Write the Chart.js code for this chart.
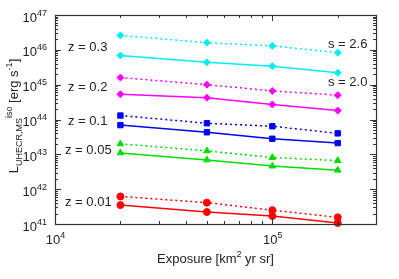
<!DOCTYPE html>
<html>
<head>
<meta charset="utf-8">
<script src="https://cdn.jsdelivr.net/npm/chart.js@4/dist/chart.umd.min.js"></script>
<style>
html,body{margin:0;padding:0;background:#fff;}
canvas{display:block;}
</style>
</head>
<body>
<canvas id="c" width="399" height="279"></canvas>
<script>
// ---- data ----
const exposure = [2e4, 5e4, 1e5, 2e5];
const z03_s26 = [2.6e46, 1.6e46, 1.3e46, 8.3e45];
const z03_s20 = [6.9e45, 4.4e45, 3.4e45, 2.2e45];
const z02_s26 = [1.6e45, 1.0e45, 6.6e44, 5.0e44];
const z02_s20 = [5.3e44, 4.2e44, 2.7e44, 1.8e44];
const z01_s26 = [1.3e44, 7.8e43, 6.4e43, 4.0e43];
const z01_s20 = [6.9e43, 4.3e43, 2.8e43, 2.1e43];
const z005_s26 = [2.0e43, 1.26e43, 8.1e42, 6.6e42];
const z005_s20 = [1.1e43, 6.9e42, 4.6e42, 3.5e42];
const z001_s26 = [6.2e41, 4.1e41, 2.5e41, 1.55e41];
const z001_s20 = [3.5e41, 2.2e41, 1.7e41, 1.07e41];

const yTickExponents = [41, 42, 43, 44, 45, 46, 47];
const xTickExponents = [4, 5];
const zLabels = ["z = 0.3", "z = 0.2", "z = 0.1", "z = 0.05", "z = 0.01"];
const sLabels = ["s = 2.6", "s = 2.0"];

const FONT = "'Liberation Sans', Arial, Helvetica, sans-serif";

function pts(arr) { return arr.map((v, i) => ({x: exposure[i], y: v})); }

function ds(arr, color, style, dotted, radius) {
  return {
    data: pts(arr),
    borderColor: color,
    backgroundColor: color,
    borderWidth: 1.5,
    borderDash: dotted ? [2, 3] : [],
    pointStyle: style,
    pointRadius: radius,
    pointBorderWidth: 1,
    tension: 0,
    clip: false
  };
}

const CY = '#00eeee', MG = '#ff00ff', BL = '#0000ff', GR = '#00dd00', RD = '#ff0000';

const datasets = [
  ds(z03_s26, CY, 'rectRot', true, 3.5),
  ds(z03_s20, CY, 'rectRot', false, 3.5),
  ds(z02_s26, MG, 'rectRot', true, 3.5),
  ds(z02_s20, MG, 'rectRot', false, 3.5),
  ds(z01_s26, BL, 'rect', true, 3.8),
  ds(z01_s20, BL, 'rect', false, 3.8),
  ds(z005_s26, GR, 'triangle', true, 3.8),
  ds(z005_s20, GR, 'triangle', false, 3.8),
  ds(z001_s26, RD, 'circle', true, 3.5),
  ds(z001_s20, RD, 'circle', false, 3.5)
];

function drawPow(ctx, base, exp, x, y, align, size) {
  // draws base with superscript exponent; y is baseline of base
  ctx.font = size + 'px ' + FONT;
  const wb = ctx.measureText(base).width;
  ctx.font = Math.round(size * 0.72) + 'px ' + FONT;
  const we = ctx.measureText(exp).width;
  const total = wb + we;
  let x0 = x;
  if (align === 'right') x0 = x - total;
  else if (align === 'center') x0 = x - total / 2;
  ctx.textAlign = 'left';
  ctx.textBaseline = 'alphabetic';
  ctx.font = size + 'px ' + FONT;
  ctx.fillText(base, x0, y);
  ctx.font = Math.round(size * 0.72) + 'px ' + FONT;
  ctx.fillText(exp, x0 + wb, y - size * 0.45);
}

// segments: [text, kind] kind: 'n' normal, 'sub', 'sup'
function drawRich(ctx, segs, x, y, size, measureOnly) {
  let cx = x;
  for (const [t, k] of segs) {
    const s = k === 'n' ? size : Math.round(size * 0.72);
    ctx.font = s + 'px ' + FONT;
    const w = ctx.measureText(t).width;
    if (!measureOnly) {
      let dy = 0;
      if (k === 'sub') dy = size * 0.3;
      if (k === 'sup') dy = -size * 0.45;
      ctx.fillText(t, cx, y + dy);
    }
    cx += w;
  }
  return cx - x;
}

const decor = {
  id: 'decor',
  afterDraw(chart) {
    const ctx = chart.ctx;
    const a = chart.chartArea;
    const xs = chart.scales.x, ys = chart.scales.y;
    ctx.save();
    // ticks
    ctx.strokeStyle = '#333';
    ctx.lineWidth = 1;
    ctx.beginPath();
    for (let e = 41; e <= 46; e++) {
      for (let m = 1; m <= 9; m++) {
        const v = m * Math.pow(10, e);
        const py = Math.round(ys.getPixelForValue(v)) + 0.5;
        const len = m === 1 ? 6 : 3;
        ctx.moveTo(a.left, py); ctx.lineTo(a.left + len, py);
        ctx.moveTo(a.right, py); ctx.lineTo(a.right - len, py);
      }
    }
    for (let e = 4; e <= 5; e++) {
      for (let m = 1; m <= 9; m++) {
        const v = m * Math.pow(10, e);
        if (v > xs.max) break;
        const px = Math.round(xs.getPixelForValue(v)) + 0.5;
        const len = m === 1 ? 6 : 3;
        ctx.moveTo(px, a.bottom); ctx.lineTo(px, a.bottom - len);
        ctx.moveTo(px, a.top); ctx.lineTo(px, a.top + len);
      }
    }
    ctx.stroke();
    // border
    ctx.strokeStyle = '#333';
    ctx.lineWidth = 1.2;
    ctx.strokeRect(Math.round(a.left) + 0.5, Math.round(a.top) + 0.5,
                   Math.round(a.right - a.left), Math.round(a.bottom - a.top));

    ctx.fillStyle = '#222';
    // y tick labels
    for (const e of yTickExponents) {
      const py = ys.getPixelForValue(Math.pow(10, e));
      drawPow(ctx, '10', String(e), a.left - 8, py + 6.5, 'right', 13);
    }
    // x tick labels
    for (const e of xTickExponents) {
      const px = xs.getPixelForValue(Math.pow(10, e));
      drawPow(ctx, '10', String(e), px + 0.5, a.bottom + 19.5, 'center', 13);
    }
    // annotations
    ctx.font = '13px ' + FONT;
    ctx.textAlign = 'left';
    ctx.textBaseline = 'middle';
    const zPos = [[68, 47], [68, 87], [68, 121], [65, 150], [65, 202]];
    zLabels.forEach((t, i) => ctx.fillText(t, zPos[i][0], zPos[i][1]));
    const sPos = [[328, 44], [328, 82]];
    sLabels.forEach((t, i) => ctx.fillText(t, sPos[i][0], sPos[i][1]));

    // x title
    ctx.textBaseline = 'alphabetic';
    const xt = [['Exposure [km', 'n'], ['2', 'sup'], [' yr sr]', 'n']];
    const wx = drawRich(ctx, xt, 0, 0, 13, true);
    drawRich(ctx, xt, (a.left + a.right) / 2 - wx / 2, 263, 13, false);

    // y title
    const yt = [['L', 'n'], ['UHECR,MS', 'sub'], ['iso', 'sup'], [' [erg s', 'n'], ['-1', 'sup'], [']', 'n']];
    ctx.save();
    ctx.translate(18, 116);
    ctx.rotate(-Math.PI / 2);
    const wy = drawRich(ctx, yt, 0, 0, 13, true);
    drawRich(ctx, yt, -wy / 2, 0, 13, false);
    ctx.restore();

    ctx.restore();
  }
};

new Chart(document.getElementById('c'), {
  type: 'line',
  data: {datasets},
  options: {
    responsive: false,
    animation: false,
    layout: {padding: {left: 55, right: 23, top: 15, bottom: 55}},
    plugins: {legend: {display: false}, tooltip: {enabled: false}},
    scales: {
      x: {type: 'logarithmic', min: 1e4, max: 3e5, display: false},
      y: {type: 'logarithmic', min: 1e41, max: 1e47, display: false}
    }
  },
  plugins: [decor]
});
</script>
</body>
</html>
